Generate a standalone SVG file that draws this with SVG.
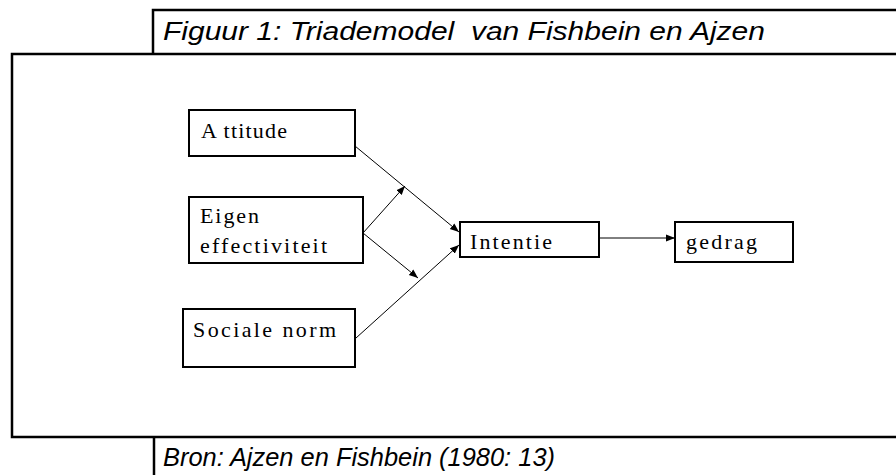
<svg xmlns="http://www.w3.org/2000/svg" width="896" height="475" viewBox="0 0 896 475">
<defs>
<style>
.frame{fill:none;stroke:#000;stroke-width:2.5}
.box{fill:#fff;stroke:#000;stroke-width:2}
.lbl{font-family:"Liberation Serif",serif;font-size:22px;fill:#000}
.cap{font-family:"Liberation Sans",sans-serif;font-style:italic;font-size:25px;fill:#000;white-space:pre}
.con{fill:none;stroke:#000;stroke-width:1}
</style>
<marker id="ah" viewBox="0 0 10 10" refX="10" refY="5" markerWidth="9" markerHeight="9" markerUnits="userSpaceOnUse" orient="auto">
<path d="M0,1 L10,5 L0,9 Z" fill="#000"/>
</marker>
</defs>
<rect width="896" height="475" fill="#fff"/>
<g id="frame">
<polyline class="frame" points="896,10 153,10 153,54"/>
<polyline class="frame" points="896,54 12,54 12,437 896,437"/>
<line class="frame" x1="154" y1="437" x2="154" y2="475"/>
<text class="cap" x="163" y="40" textLength="602" lengthAdjust="spacingAndGlyphs" xml:space="preserve">Figuur 1: Triademodel  van Fishbein en Ajzen</text>
<text class="cap" x="163" y="466" textLength="392" lengthAdjust="spacingAndGlyphs">Bron: Ajzen en Fishbein (1980: 13)</text>
</g>
<g id="connectors">
<line class="con" x1="355" y1="146" x2="459" y2="232" marker-end="url(#ah)"/>
<line class="con" x1="363" y1="233" x2="405" y2="186" marker-end="url(#ah)"/>
<line class="con" x1="363" y1="233" x2="418" y2="278" marker-end="url(#ah)"/>
<line class="con" x1="356" y1="338" x2="459" y2="245" marker-end="url(#ah)"/>
<line class="con" x1="599" y1="238" x2="675" y2="238" marker-end="url(#ah)"/>
</g>
<g id="attitude">
<rect class="box" x="189" y="110" width="166" height="46"/>
<text class="lbl" x="201" y="138" textLength="86" lengthAdjust="spacing" xml:space="preserve">A ttitude</text>
</g>
<g id="eigen-effectiviteit">
<rect class="box" x="189" y="197" width="174" height="66"/>
<text class="lbl" x="200" y="223" textLength="59" lengthAdjust="spacing">Eigen</text>
<text class="lbl" x="200" y="253" textLength="127" lengthAdjust="spacing">effectiviteit</text>
</g>
<g id="sociale-norm">
<rect class="box" x="183" y="309" width="172" height="58"/>
<text class="lbl" x="193" y="337" textLength="143" lengthAdjust="spacing">Sociale norm</text>
</g>
<g id="intentie">
<rect class="box" x="460" y="222" width="139" height="35"/>
<text class="lbl" x="470" y="249" textLength="82" lengthAdjust="spacing">Intentie</text>
</g>
<g id="gedrag">
<rect class="box" x="675" y="222" width="118" height="40"/>
<text class="lbl" x="686" y="249" textLength="71" lengthAdjust="spacing">gedrag</text>
</g>
</svg>
